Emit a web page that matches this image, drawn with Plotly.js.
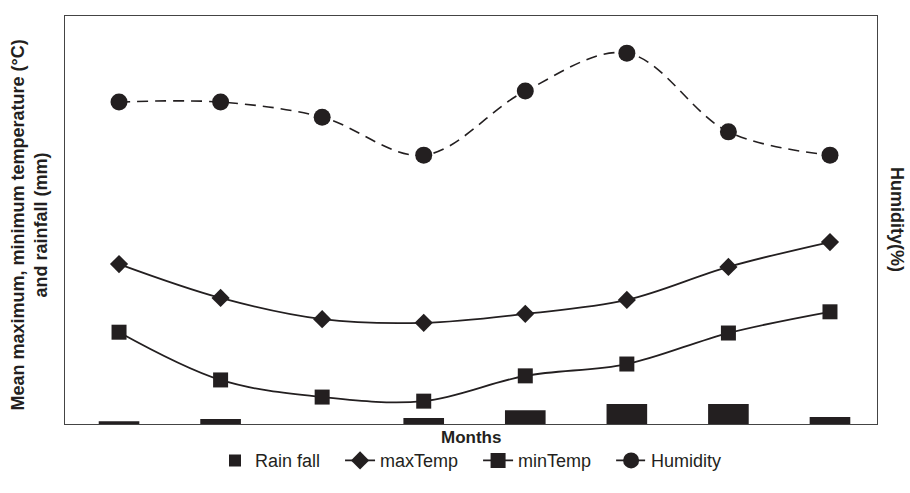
<!DOCTYPE html>
<html><head><meta charset="utf-8">
<script src="https://cdn.plot.ly/plotly-3.0.1.min.js"></script>
<style>body{margin:0;background:#fff}#c{width:910px;height:493px}</style>
</head><body><div id="c"></div>
<script>
var months = ["M1","M2","M3","M4","M5","M6","M7","M8"];
var seriesNames = ["Rain fall", "maxTemp", "minTemp", "Humidity"];
var rainFall = [0.7, 1.2, 0, 1.5, 3.4, 4.9, 4.9, 1.7];
var maxTemp = [39.2, 30.9, 25.7, 24.8, 27.0, 30.4, 38.5, 44.6];
var minTemp = [22.5, 10.8, 6.6, 5.6, 11.8, 14.7, 22.3, 27.5];
var humidity = [78.9, 78.9, 75.2, 65.9, 81.6, 90.9, 71.6, 65.9];

var ink = "#231f20";
var pad = "\u00a0\u00a0\u00a0";
var traces = [
  {type:"bar", name:seriesNames[0] + pad, x:months, y:rainFall, marker:{color:ink}, width:0.4, yaxis:"y"},
  {type:"scatter", mode:"lines+markers", name:seriesNames[1] + pad, x:months, y:maxTemp,
   line:{color:ink, width:1.8, shape:"spline"}, marker:{symbol:"diamond", size:14, color:ink}},
  {type:"scatter", mode:"lines+markers", name:seriesNames[2] + pad, x:months, y:minTemp,
   line:{color:ink, width:1.8, shape:"spline"}, marker:{symbol:"square", size:15, color:ink}},
  {type:"scatter", mode:"lines+markers", name:seriesNames[3], x:months, y:humidity, yaxis:"y2",
   line:{color:ink, width:1.6, shape:"spline", dash:"11px,7px"}, marker:{symbol:"circle", size:17, color:ink}}
];
var layout = {
  width:910, height:493,
  margin:{l:65, r:33, t:16, b:69},
  paper_bgcolor:"#fff", plot_bgcolor:"#fff",
  font:{family:"Liberation Sans, Arial, sans-serif", color:ink, size:18},
  showlegend:true,
  legend:{orientation:"h", x:0.5, xanchor:"center", y:-0.09, yanchor:"middle",
          font:{size:18, color:ink}, traceorder:"normal"},
  xaxis:{showticklabels:false, ticks:"", showgrid:false, zeroline:false,
         showline:true, mirror:true, linecolor:"#444", linewidth:1, range:[-0.532,7.463]},
  yaxis:{showticklabels:false, ticks:"", showgrid:false, zeroline:false,
         showline:true, mirror:true, linecolor:"#444", linewidth:1, range:[0,100]},
  yaxis2:{overlaying:"y", side:"right", range:[0,100], showticklabels:false, ticks:"",
          showgrid:false, zeroline:false, showline:false},
  annotations:[
    {text:"<b>Months</b>", xref:"paper", yref:"paper", x:0.5, y:-0.032, yanchor:"middle",
     showarrow:false, font:{size:17, color:ink}},
    {text:"<b>Mean maximum, minimum temperature (°C)<br>and rainfall (mm)</b>", xref:"paper", yref:"paper",
     x:-0.0435, xanchor:"center", y:0.488, yanchor:"middle", textangle:-90, showarrow:false,
     font:{size:18, color:ink}},
    {text:"<b>Humidity(%)</b>", xref:"paper", yref:"paper", x:1.0246, xanchor:"center", y:0.5, yanchor:"middle",
     textangle:90, showarrow:false, font:{size:18, color:ink}}
  ]
};
Plotly.newPlot("c", traces, layout, {displayModeBar:false, staticPlot:true});
</script></body></html>
